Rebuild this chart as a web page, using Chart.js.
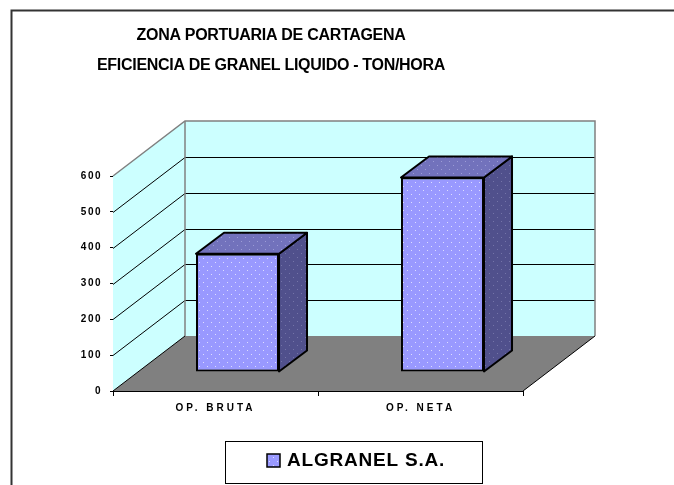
<!DOCTYPE html>
<html>
<head>
<meta charset="utf-8">
<script src="https://cdn.jsdelivr.net/npm/chart.js@4/dist/chart.umd.min.js"></script>
<style>
html,body{margin:0;padding:0;background:#fff;}
#wrap{width:674px;height:485px;position:relative;}
canvas{display:block;}
</style>
</head>
<body>
<div id="wrap"><canvas id="c" width="674" height="485"></canvas></div>
<script>
// ---- data ----
const titleLines = ['ZONA PORTUARIA DE CARTAGENA', 'EFICIENCIA DE GRANEL LIQUIDO - TON/HORA'];
const categories = ['OP. BRUTA', 'OP. NETA'];
const seriesName = 'ALGRANEL S.A.';
const seriesValues = [330, 543];
const yTickValues = [0, 100, 200, 300, 400, 500, 600];

// ---- style constants ----
const FONT = "'Liberation Sans', Arial, sans-serif";
const WALL = '#CCFFFF', FLOOR = '#808080', WALL_EDGE = '#808080';
const DEPTH = {dx: 72, dy: -55};      // full depth of the 3D box
const BAR_FRONT = {dx: 22, dy: -19};  // front face of bars inside the depth
const BAR_DEPTH = {dx: 28, dy: -21};  // bar thickness

function dotPattern(base, dot) {
  const c = document.createElement('canvas');
  c.width = 8; c.height = 8;
  const g = c.getContext('2d');
  g.fillStyle = base; g.fillRect(0, 0, 8, 8);
  g.fillStyle = dot; g.fillRect(1, 1, 1, 1); g.fillRect(5, 5, 1, 1);
  return g.createPattern(c, 'repeat');
}
const frontFill = dotPattern('#9999FF', '#DDDDFF');
const topFill = dotPattern('#7272BC', '#9C9CD6');
const sideFill = dotPattern('#50508C', '#7474A8');

function poly(ctx, pts, fill, stroke, lw) {
  ctx.beginPath();
  ctx.moveTo(pts[0][0], pts[0][1]);
  for (let i = 1; i < pts.length; i++) ctx.lineTo(pts[i][0], pts[i][1]);
  ctx.closePath();
  if (fill) { ctx.fillStyle = fill; ctx.fill(); }
  if (stroke) { ctx.strokeStyle = stroke; ctx.lineWidth = lw || 1; ctx.stroke(); }
}
function line(ctx, pts, color, lw) {
  ctx.beginPath();
  ctx.moveTo(pts[0][0], pts[0][1]);
  for (let i = 1; i < pts.length; i++) ctx.lineTo(pts[i][0], pts[i][1]);
  ctx.strokeStyle = color; ctx.lineWidth = lw || 1; ctx.stroke();
}

const threeD = {
  id: 'threeD',
  beforeDraw(chart) {
    const ctx = chart.ctx;
    ctx.save();
    ctx.fillStyle = '#fff';
    ctx.fillRect(0, 0, chart.width, chart.height);
    // outer frame (top and left edges visible)
    line(ctx, [[11.5, chart.height], [11.5, 10.5], [chart.width, 10.5]], '#333', 2);
    ctx.restore();
    ctx.letterSpacing = '1.5px';
  },
  beforeDatasetsDraw(chart) {
    const ctx = chart.ctx;
    const a = chart.chartArea;
    const y = chart.scales.y;
    const L = a.left, R = a.right, T = y.getPixelForValue(y.max), B = y.getPixelForValue(y.min);
    const dx = DEPTH.dx, dy = DEPTH.dy;
    ctx.save();
    ctx.letterSpacing = '0px';
    // side wall
    poly(ctx, [[L, T], [L + dx, T + dy], [L + dx, B + dy], [L, B]], WALL);
    // back wall
    poly(ctx, [[L + dx, T + dy], [R + dx, T + dy], [R + dx, B + dy], [L + dx, B + dy]], WALL);
    // floor
    poly(ctx, [[L, B], [L + dx, B + dy], [R + dx, B + dy], [R, B]], FLOOR);
    // gridlines
    y.ticks.forEach(t => {
      if (t.value <= y.min || t.value >= y.max) return;
      const p = Math.round(y.getPixelForValue(t.value)) + 0.5;
      line(ctx, [[L, p], [L + dx, p + dy], [R + dx, p + dy]], '#000', 1);
    });
    // wall edges
    line(ctx, [[L, T], [L + dx, T + dy], [R + dx, T + dy], [R + dx, B + dy]], WALL_EDGE, 1.5);
    line(ctx, [[L + dx, T + dy], [L + dx, B + dy]], WALL_EDGE, 1.5);
    // floor edges
    line(ctx, [[L, B], [L + dx, B + dy]], '#000', 1);
    line(ctx, [[R, B], [R + dx, B + dy]], '#000', 1);

    // bar top and side faces
    const meta = chart.getDatasetMeta(0);
    meta.data.forEach(bar => {
      const p = bar.getProps(['x', 'y', 'base', 'width'], true);
      const l = p.x - p.width / 2 + BAR_FRONT.dx, r = p.x + p.width / 2 + BAR_FRONT.dx;
      const t = p.y + BAR_FRONT.dy, b = p.base + BAR_FRONT.dy;
      const bx = BAR_DEPTH.dx, by = BAR_DEPTH.dy;
      ctx.lineJoin = 'round';
      poly(ctx, [[r, t], [r + bx, t + by], [r + bx, b + by], [r, b]], sideFill, '#000', 2);
      poly(ctx, [[l, t], [l + bx, t + by], [r + bx, t + by], [r, t]], topFill, '#000', 2);
    });
    ctx.restore();
    ctx.save();
    ctx.translate(BAR_FRONT.dx, BAR_FRONT.dy);
  },
  afterDatasetsDraw(chart) {
    chart.ctx.restore();
    chart.ctx.letterSpacing = '3px';
  },
  afterDraw(chart) {
    const ctx = chart.ctx;
    ctx.save();
    // title
    ctx.fillStyle = '#000';
    ctx.textAlign = 'center';
    ctx.textBaseline = 'middle';
    ctx.font = 'bold 16px ' + FONT;
    ctx.letterSpacing = '-0.3px';
    ctx.fillText(titleLines[0], 271, 36);
    ctx.fillText(titleLines[1], 271, 66);
    // legend
    ctx.letterSpacing = '0px';
    const bx = 225.5, by = 441.5, bw = 257, bh = 42;
    ctx.strokeStyle = '#000'; ctx.lineWidth = 1;
    ctx.strokeRect(bx, by, bw, bh);
    ctx.fillStyle = frontFill;
    ctx.fillRect(267, 454, 13, 13);
    ctx.lineWidth = 1.5;
    ctx.strokeRect(267, 454, 13, 13);
    ctx.fillStyle = '#000';
    ctx.textAlign = 'left';
    ctx.font = 'bold 19px ' + FONT;
    ctx.letterSpacing = '0.8px';
    ctx.fillText(chart.data.datasets[0].label, 287, 461);
    ctx.restore();
  }
};

new Chart(document.getElementById('c'), {
  type: 'bar',
  data: {
    labels: categories,
    datasets: [{
      label: seriesName,
      data: seriesValues,
      backgroundColor: frontFill,
      borderColor: '#000',
      borderWidth: 2,
      borderSkipped: false,
      barPercentage: 0.405,
      categoryPercentage: 1
    }]
  },
  options: {
    responsive: false,
    animation: false,
    devicePixelRatio: 1,
    layout: {padding: {left: 0, right: 151, top: 176, bottom: 54}},
    plugins: {legend: {display: false}, title: {display: false}, tooltip: {enabled: false}},
    scales: {
      x: {
        grid: {drawOnChartArea: false, drawTicks: true, tickLength: 5, color: '#000', offset: true},
        border: {display: true, color: '#000', width: 1},
        ticks: {z: 1, color: '#000', padding: 6, font: {family: FONT, size: 10, weight: 'bold'}},
        afterFit(s) { s.height = 40; }
      },
      y: {
        min: yTickValues[0],
        max: yTickValues[yTickValues.length - 1],
        grid: {drawOnChartArea: false, drawTicks: true, tickLength: 3, color: '#000'},
        border: {display: true, color: '#000', width: 1},
        ticks: {stepSize: yTickValues[1] - yTickValues[0], color: '#000', padding: 8,
                font: {family: FONT, size: 10, weight: 'bold'}},
        afterFit(s) { s.width = 113; }
      }
    }
  },
  plugins: [threeD]
});
</script>
</body>
</html>
